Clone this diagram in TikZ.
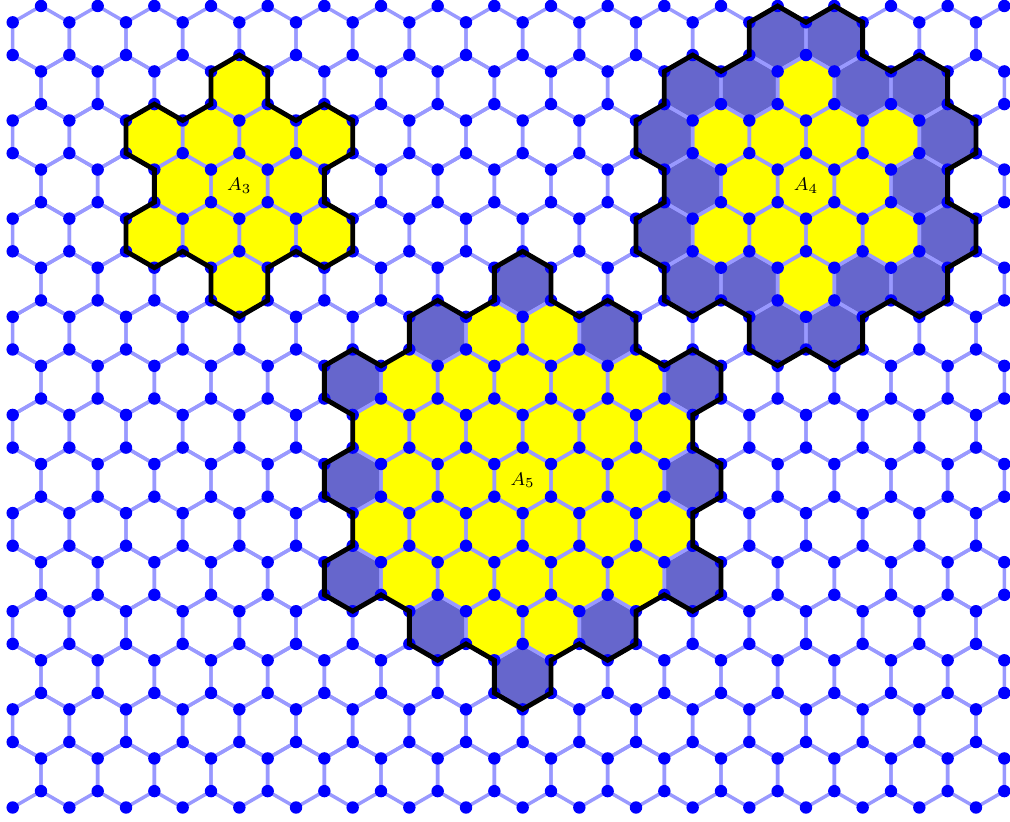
\documentclass[tikz,border=0pt]{standalone}
\definecolor{cEdge}{RGB}{153,153,255}
\definecolor{cDot}{RGB}{0,0,255}
\definecolor{cCore}{RGB}{255,255,0}
\definecolor{cShell}{RGB}{102,102,204}

% one hexagon (pointy top), centre at #1,#2; x in half-widths, y in sides
\newcommand{\hexcell}[2]{(#1,#2) ++(0,1) -- ++(1,-.5) -- ++(0,-1) -- ++(-1,-.5) -- ++(-1,.5) -- ++(0,1) -- cycle}
% cells of A3, and the rings that A4 and A5 add, relative to the centre cell
\newcommand{\coreCells}{0/3, -3/1.5, -1/1.5, 1/1.5, 3/1.5, -2/0, 0/0, 2/0,
  -3/-1.5, -1/-1.5, 1/-1.5, 3/-1.5, 0/-3}
\newcommand{\shellFour}{-1/4.5, 1/4.5, -4/3, -2/3, 2/3, 4/3, -5/1.5, 5/1.5,
  -4/0, 4/0, -5/-1.5, 5/-1.5, -4/-3, -2/-3, 2/-3, 4/-3, -1/-4.5, 1/-4.5}
\newcommand{\shellFive}{0/6, -3/4.5, 3/4.5, -6/3, 6/3, -6/0, 6/0,
  -6/-3, 6/-3, -3/-4.5, 3/-4.5, 0/-6}

\begin{document}
\begin{tikzpicture}[
  x=0.4330127cm, y=0.5cm,
  honey/.style = {draw=cEdge, line width=1.5pt},
  knot/.style  = {fill=cDot},
  core/.style  = {fill=cCore},
  shell/.style = {fill=cShell},
  rim/.style   = {draw=black, line width=2.1pt},
  tag/.style   = {font=\footnotesize, inner sep=0pt}
]
\useasboundingbox (-0.448,-24.916) rectangle (35.201,0.183);

% ------------------------------------------------------------ the regions --
\begin{scope}[shift={(8,-5.5)}]
  \foreach \dx/\dy in \coreCells \fill[core] \hexcell{\dx}{\dy};
\end{scope}
\begin{scope}[shift={(28,-5.5)}]
  \foreach \dx/\dy in \coreCells \fill[core] \hexcell{\dx}{\dy};
  \foreach \dx/\dy in \shellFour \fill[shell] \hexcell{\dx}{\dy};
\end{scope}
\begin{scope}[shift={(18,-14.5)}]
  \foreach \dx/\dy in \coreCells \fill[core] \hexcell{\dx}{\dy};
  \foreach \dx/\dy in \shellFour \fill[core] \hexcell{\dx}{\dy};
  \foreach \dx/\dy in \shellFive \fill[shell] \hexcell{\dx}{\dy};
\end{scope}

% ------------------------------------------------------------ the lattice --
\begin{scope}
  \clip (-0.1,-24.6) rectangle (35.1,0.1);
  \foreach \j in {0,...,7}{
    \foreach \k in {1,3,...,35} \draw[honey] \hexcell{\k}{-1-3*\j};
    \foreach \k in {0,2,...,34} \draw[honey] \hexcell{\k}{-2.5-3*\j};
  }
\end{scope}

% --------------------------------------------------------------- vertices --
\foreach \j in {0,...,8}{
  \foreach \k in {1,3,...,35} \fill[knot] (\k,-3*\j) circle[radius=2.7pt];
  \foreach \k in {0,2,...,34} \fill[knot] (\k,-3*\j-.5) circle[radius=2.7pt];
}
\foreach \j in {0,...,7}{
  \foreach \k in {0,2,...,34} \fill[knot] (\k,-3*\j-1.5) circle[radius=2.7pt];
  \foreach \k in {1,3,...,35} \fill[knot] (\k,-3*\j-2) circle[radius=2.7pt];
}

% ------------------------------------------------------------ the borders --
\begin{scope}[shift={(8,-5.5)}]
  \draw[rim] (0,4) -- (1,3.5) -- (1,2.5) -- (2,2) -- (3,2.5) -- (4,2) -- (4,1)
    -- (3,.5) -- (3,-.5) -- (4,-1) -- (4,-2) -- (3,-2.5) -- (2,-2) -- (1,-2.5)
    -- (1,-3.5) -- (0,-4) -- (-1,-3.5) -- (-1,-2.5) -- (-2,-2) -- (-3,-2.5)
    -- (-4,-2) -- (-4,-1) -- (-3,-.5) -- (-3,.5) -- (-4,1) -- (-4,2) -- (-3,2.5)
    -- (-2,2) -- (-1,2.5) -- (-1,3.5) -- cycle;
\end{scope}
\begin{scope}[shift={(28,-5.5)}]
  \draw[rim] (-1,5.5) -- (0,5) -- (1,5.5) -- (2,5) -- (2,4) -- (3,3.5) -- (4,4)
    -- (5,3.5) -- (5,2.5) -- (6,2) -- (6,1) -- (5,.5) -- (5,-.5) -- (6,-1)
    -- (6,-2) -- (5,-2.5) -- (5,-3.5) -- (4,-4) -- (3,-3.5) -- (2,-4) -- (2,-5)
    -- (1,-5.5) -- (0,-5) -- (-1,-5.5) -- (-2,-5) -- (-2,-4) -- (-3,-3.5)
    -- (-4,-4) -- (-5,-3.5) -- (-5,-2.5) -- (-6,-2) -- (-6,-1) -- (-5,-.5)
    -- (-5,.5) -- (-6,1) -- (-6,2) -- (-5,2.5) -- (-5,3.5) -- (-4,4) -- (-3,3.5)
    -- (-2,4) -- (-2,5) -- cycle;
\end{scope}
\begin{scope}[shift={(18,-14.5)}]
  \draw[rim] (0,7) -- (1,6.5) -- (1,5.5) -- (2,5) -- (3,5.5) -- (4,5) -- (4,4)
    -- (5,3.5) -- (6,4) -- (7,3.5) -- (7,2.5) -- (6,2) -- (6,1) -- (7,.5)
    -- (7,-.5) -- (6,-1) -- (6,-2) -- (7,-2.5) -- (7,-3.5) -- (6,-4) -- (5,-3.5)
    -- (4,-4) -- (4,-5) -- (3,-5.5) -- (2,-5) -- (1,-5.5) -- (1,-6.5) -- (0,-7)
    -- (-1,-6.5) -- (-1,-5.5) -- (-2,-5) -- (-3,-5.5) -- (-4,-5) -- (-4,-4)
    -- (-5,-3.5) -- (-6,-4) -- (-7,-3.5) -- (-7,-2.5) -- (-6,-2) -- (-6,-1)
    -- (-7,-.5) -- (-7,.5) -- (-6,1) -- (-6,2) -- (-7,2.5) -- (-7,3.5) -- (-6,4)
    -- (-5,3.5) -- (-4,4) -- (-4,5) -- (-3,5.5) -- (-2,5) -- (-1,5.5) -- (-1,6.5)
    -- cycle;
\end{scope}

% ------------------------------------------------------------ the names --
\node[tag] (a3) at (8,-5.5)   {$A_3$};
\node[tag] (a4) at (28,-5.5)  {$A_4$};
\node[tag] (a5) at (18,-14.5) {$A_5$};

\end{tikzpicture}
\end{document}
